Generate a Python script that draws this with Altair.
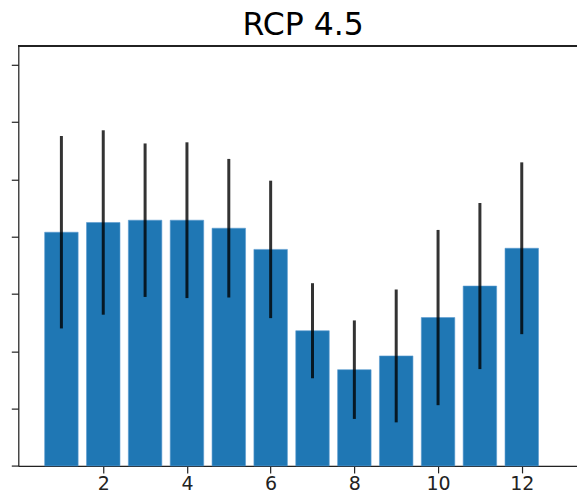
import altair as alt
import pandas as pd

title_text = "RCP 4.5"
months = [1, 2, 3, 4, 5, 6, 7, 8, 9, 10, 11, 12]
means = [4.08, 4.25, 4.29, 4.29, 4.15, 3.78, 2.36, 1.68, 1.92, 2.59, 3.14, 3.80]
errs = [1.68, 1.61, 1.34, 1.36, 1.21, 1.20, 0.83, 0.86, 1.16, 1.53, 1.45, 1.50]
y_ticks = [0, 1, 2, 3, 4, 5, 6, 7]
x_ticks = [2, 4, 6, 8, 10, 12]

df = pd.DataFrame({"month": months, "mean": means, "err": errs})

W = 559
H = 420.3

xscale = alt.Scale(domain=[-0.03, 13.32], nice=False, zero=False)
yscale = alt.Scale(domain=[0, 7.335], nice=False, zero=False)

base = alt.Chart(df).transform_calculate(
    x0="datum.month - 0.4",
    x1="datum.month + 0.4",
    lo="datum.mean - datum.err",
    hi="datum.mean + datum.err",
)

bars = base.mark_bar(color="#1f77b4", stroke="#5b9bd0", strokeWidth=0.6).encode(
    x=alt.X("x0:Q", scale=xscale,
            axis=alt.Axis(values=x_ticks, title=None, grid=False, format="d",
                          domainColor="#222222", domainWidth=1.2,
                          tickColor="#222222", tickWidth=1.2, tickSize=7,
                          labelFontSize=19, labelFont="DejaVu Sans",
                          labelColor="#222222", labelPadding=2)),
    x2="x1:Q",
    y=alt.Y("mean:Q", scale=yscale,
            axis=alt.Axis(values=y_ticks, title=None, grid=False, labels=False,
                          domainColor="#222222", domainWidth=1.2,
                          tickColor="#222222", tickWidth=1.2, tickSize=7)),
    y2=alt.datum(0),
)

errbars = base.mark_rule(color="black", strokeWidth=3, opacity=0.8).encode(
    x=alt.X("month:Q", scale=xscale),
    y=alt.Y("lo:Q", scale=yscale),
    y2="hi:Q",
)

top = alt.Chart(df).mark_rule(color="#222222", strokeWidth=1.2).encode(
    x=alt.value(0), x2=alt.value(W), y=alt.value(0)
)

title = alt.Chart(pd.DataFrame({"t": [title_text]})).mark_text(
    font="DejaVu Sans", fontSize=31.5, color="black", align="center",
    baseline="alphabetic"
).encode(x=alt.value(W / 2 + 5.5), y=alt.value(-10.7), text="t:N")

chart = alt.layer(bars, errbars, top, title).properties(
    width=W,
    height=H,
    autosize=alt.AutoSizeParams(type="none"),
    padding={"left": 18.3, "top": 45.7, "right": 0, "bottom": 35},
).configure_view(stroke=None).configure(background="white")

chart.save("out.html", embed_options={"renderer": "svg", "actions": False})
